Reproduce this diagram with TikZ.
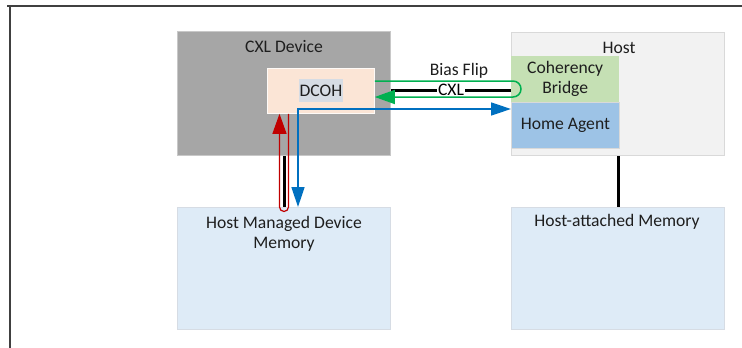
\documentclass[tikz,border=0pt]{standalone}
\usepackage{fontspec}
\setmainfont{Carlito}
\usetikzlibrary{arrows.meta,calc}

\definecolor{txt}{HTML}{1E1E1E}
\definecolor{devfill}{HTML}{A6A6A6}
\definecolor{devline}{HTML}{C8C8C8}
\definecolor{hostfill}{HTML}{F2F2F2}
\definecolor{hostline}{HTML}{D9D9D9}
\definecolor{memfill}{HTML}{DEEBF7}
\definecolor{memline}{HTML}{D6DCE4}
\definecolor{dcohfill}{HTML}{FBE5D6}
\definecolor{dcohtag}{HTML}{D6DCE4}
\definecolor{cbfill}{HTML}{C5E0B4}
\definecolor{hafill}{HTML}{9DC3E6}
\definecolor{grn}{HTML}{00B050}
\definecolor{blu}{HTML}{0070C0}
\definecolor{rd}{HTML}{C00000}
\definecolor{frame}{HTML}{404040}

\begin{document}
\begin{tikzpicture}[x=1pt,y=-1pt,
  font=\fontsize{17.6}{20}\selectfont, text=txt,
  box/.style={rectangle, inner sep=0pt, anchor=north west},
  sz/.style 2 args={minimum width=#1pt, minimum height=#2pt},
  lbl/.style={inner sep=0pt, align=center},
  link/.style={line width=3pt, black},
  tip/.style={-{Triangle[length=20pt,width=14pt]}}
]
\useasboundingbox (0,0) rectangle (742,348);

% outer frame (top and left edges)
\draw[frame, line width=1.5pt] (7,6) -- (742,6);
\draw[frame, line width=1.5pt] (10,6) -- (10,348);

% CXL device and its coherency engine
\node[box, sz={213}{124}, fill=devfill, draw=devline, line width=1pt] (dev) at (177,31) {};
\node[lbl] (devlbl) at (284,47) {CXL Device};
\node[box, sz={107}{45}, fill=dcohfill, draw=white!80!dcohfill, line width=0.8pt] (dcoh) at (267,68) {};
\node[lbl, fill=dcohtag, minimum width=44pt, minimum height=23pt] (dcohlbl) at (dcoh.center) {DCOH};

% host side
\node[box, sz={213}{123}, fill=hostfill, draw=hostline, line width=1pt] (host) at (511,32) {};
\node[lbl] (hostlbl) at (619,48) {Host};
\node[box, sz={108}{46}, fill=cbfill, draw=none] (cb) at (511,56) {};
\node[lbl] (cblbl) at (cb.center) {Coherency\\Bridge};
\node[box, sz={108}{46}, fill=hafill, draw=hostline, line width=0.8pt] (ha) at (511,102) {};
\node[lbl] (halbl) at (ha.center) {Home Agent};

% memories
\node[box, sz={213}{122}, fill=memfill, draw=memline, line width=0.8pt] (hmdm) at (177,207) {};
\node[lbl] (hmdmlbl) at (284,234) {Host Managed Device\\Memory};
\node[box, sz={213}{122}, fill=memfill, draw=memline, line width=0.8pt] (ham) at (511,207) {};
\node[lbl] (hamlbl) at (617,222) {Host-attached Memory};

% CXL link between device and host
\draw[link] (dev.east |- 0,90) -- (cb.west |- 0,90)
  node[midway, fill=white, inner sep=1.5pt] (cxl) {CXL};
\node[lbl] (bias) at (459,71) {Bias Flip};

% bias flip request and response
\draw[grn, line width=1.5pt, tip]
  (dcoh.east |- 0,81) -- ($(cb.west |- 0,81)+(2,0)$) arc[start angle=90, end angle=-90, radius=8pt]
  -- (dcoh.east |- 0,97);

% home agent <-> device memory path
\draw[blu, line width=1.5pt, {Triangle[length=20pt,width=13pt]}-{Triangle[length=20pt,width=13pt]}]
  (hmdm.north -| 298,0) |- (ha.west |- 0,109);

% device-local memory link
\draw[link] (dev.south -| 284,0) -- (hmdm.north -| 284,0);
\draw[link] (host.south -| 618,0) -- (ham.north -| 618,0);

% device access loop into its own memory
\draw[rd, line width=1.2pt, -{Triangle[length=20pt,width=14pt]}]
  (dcoh.south -| 288.5,0) -- (288.5,207) arc[start angle=0, end angle=-180, radius=4.5pt]
  -- (dcoh.south -| 279.5,0);
\end{tikzpicture}
\end{document}
